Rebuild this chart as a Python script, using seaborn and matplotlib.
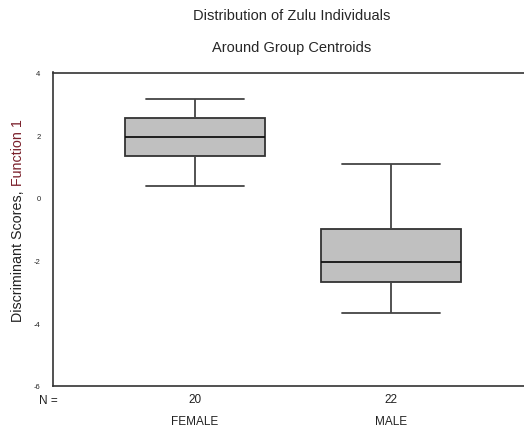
import numpy as np
import pandas as pd
import matplotlib
matplotlib.use("Agg")
import matplotlib.pyplot as plt
import seaborn as sns

# Five-number summaries (min, q1, median, q3, max)
groups = ["FEMALE", "MALE"]
counts = [20, 22]
female_summary = [0.38, 1.34, 1.95, 2.55, 3.15]
male_summary = [-3.66, -2.68, -2.06, -0.98, 1.08]
yticks = [-6, -4, -2, 0, 2, 4]

df = pd.DataFrame({
    "group": [groups[0]] * 5 + [groups[1]] * 5,
    "score": female_summary + male_summary,
})

sns.set_style("white")
plt.rcParams["font.family"] = ["Liberation Sans", "DejaVu Sans"]

fig = plt.figure(figsize=(5.24, 4.31), dpi=100)
ax = fig.add_axes([53 / 524, 1 - 387 / 431, 1 - 53 / 524 + 0.02, (387 - 73.5) / 431])

edge = "#333333"
sns.boxplot(data=df, x="group", y="score", order=groups, ax=ax,
            whis=np.inf, width=0.714, color="#c0c0c0", saturation=1,
            linecolor=edge, linewidth=1.3,
            medianprops=dict(color="#111111", linewidth=1.3),
            whiskerprops=dict(color="#444444", linewidth=1.3),
            capprops=dict(color="#444444", linewidth=1.3),
            capwidths=0.5)

ax.set_xlim(-0.724, 1.73)
ax.set_ylim(-6, 4)
ax.set_yticks(yticks)
ax.set_yticklabels([str(v) for v in yticks], fontsize=5.5)
ax.set_xticks(range(len(groups)))
ax.set_xticklabels([str(c) for c in counts], fontsize=8.5, color="#222222")
ax.tick_params(axis="both", direction="out", length=3, width=0.8, color="#333333")
ax.tick_params(axis="x", pad=2)
ax.tick_params(axis="y", pad=6)
ax.set_xlabel("")
ax.set_ylabel("")
for s in ["left", "top", "bottom"]:
    ax.spines[s].set_color("#333333")
    ax.spines[s].set_linewidth(1.2)
ax.spines["right"].set_visible(False)

for i, g in enumerate(groups):
    ax.annotate(g, xy=(i, 0), xycoords=("data", "axes fraction"),
                xytext=(0, -25.5), textcoords="offset points",
                ha="center", va="center", fontsize=8.5, color="#222222")
fig.text(48 / 524, 1 - 401 / 431, "N =", ha="center", va="center", fontsize=8.5, color="#222222")

fig.text(292 / 524, 1 - 16 / 431, "Distribution of Zulu Individuals", ha="center", va="center", fontsize=10.5)
fig.text(292 / 524, 1 - 48 / 431, "Around Group Centroids", ha="center", va="center", fontsize=10.5)

# y label in two colours
t1 = fig.text(18 / 524, 1 - 322 / 431, "Discriminant Scores, ", rotation=90,
              ha="center", va="bottom", fontsize=10.3, color="#222222")
fig.canvas.draw()
bb = t1.get_window_extent(fig.canvas.get_renderer())
fig.text(18 / 524, bb.y1 / fig.bbox.height, "Function 1", rotation=90,
         ha="center", va="bottom", fontsize=10.3, color="#7a1f2a")

fig.savefig("out.png", dpi=100)
